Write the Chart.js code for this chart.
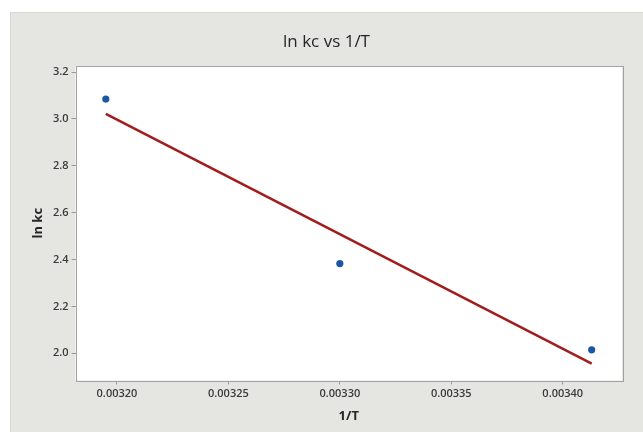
<!DOCTYPE html>
<html>
<head>
<meta charset="utf-8">
<title>ln kc vs 1/T</title>
<script src="https://cdn.jsdelivr.net/npm/chart.js@4/dist/chart.umd.min.js"></script>
<style>
  html, body { margin: 0; padding: 0; background: #ffffff; }
  #wrap { width: 643px; height: 432px; }
</style>
</head>
<body>
<div id="wrap"><canvas id="chart" width="643" height="432"></canvas></div>
<script>
// Measured points: reciprocal temperature (1/K) and ln of the equilibrium constant
const invT = [0.003195, 0.003300, 0.003413];
const lnKc = [3.085, 2.383, 2.015];

// Fitted regression line, drawn between the first and last temperatures
const fitX = [0.003195, 0.003413];
const fitY = [3.022, 1.956];

// Axis ticks
const xTicks = [0.00320, 0.00325, 0.00330, 0.00335, 0.00340];
const yTicks = [2.0, 2.2, 2.4, 2.6, 2.8, 3.0, 3.2];

const xRange = [0.0031814, 0.0034266];
const yRange = [1.884, 3.226];

const PANEL = '#e5e5e2';
const FRAME = '#a3a3a3';
const TEXT = '#262626';
const TICK_TEXT = '#3a3a3a';
const FONT = "'Open Sans', 'Noto Sans', sans-serif";

const pointData = invT.map((x, i) => ({ x: x, y: lnKc[i] }));
const fitData = fitX.map((x, i) => ({ x: x, y: fitY[i] }));

// Paints the gray graph panel, the white data region and its frame
const panelPlugin = {
  id: 'panel',
  beforeDraw(chart) {
    const { ctx, chartArea: a } = chart;
    ctx.save();
    ctx.fillStyle = '#ffffff';
    ctx.fillRect(0, 0, chart.width, chart.height);
    ctx.fillStyle = PANEL;
    ctx.fillRect(10, 12, chart.width - 10, chart.height - 12);
    ctx.strokeStyle = '#d6d6d3';
    ctx.lineWidth = 1;
    ctx.beginPath();
    ctx.moveTo(10.5, chart.height);
    ctx.lineTo(10.5, 12.5);
    ctx.lineTo(chart.width, 12.5);
    ctx.stroke();
    ctx.fillStyle = '#ffffff';
    ctx.fillRect(a.left, a.top, a.right - a.left, a.bottom - a.top);
    ctx.restore();
  },
  afterDatasetsDraw(chart) {
    const { ctx, chartArea: a } = chart;
    ctx.save();
    ctx.strokeStyle = FRAME;
    ctx.lineWidth = 1;
    ctx.strokeRect(Math.round(a.left) + 0.5, Math.round(a.top) + 0.5,
                   Math.round(a.right - a.left), Math.round(a.bottom - a.top));
    ctx.restore();
  }
};

new Chart(document.getElementById('chart'), {
  type: 'scatter',
  data: {
    datasets: [
      {
        label: 'Fit',
        data: fitData,
        showLine: true,
        borderColor: '#a11d1d',
        borderWidth: 2.5,
        pointRadius: 0,
        fill: false,
        order: 2
      },
      {
        label: 'ln kc',
        data: pointData,
        pointRadius: 3.6,
        pointBackgroundColor: '#1d57a3',
        pointBorderColor: '#1d57a3',
        pointBorderWidth: 0,
        order: 1
      }
    ]
  },
  options: {
    responsive: false,
    animation: false,
    devicePixelRatio: 1,
    layout: { padding: { left: 10, right: 0, top: 0, bottom: 0 } },
    plugins: {
      legend: { display: false },
      tooltip: { enabled: false },
      title: {
        display: true,
        text: 'ln kc vs 1/T',
        color: TEXT,
        font: { family: FONT, size: 17, weight: 'normal' },
        padding: { top: 32, bottom: 13.6 }
      }
    },
    scales: {
      x: {
        type: 'linear',
        position: 'bottom',
        min: xRange[0],
        max: xRange[1],
        afterBuildTicks: s => { s.ticks = xTicks.map(v => ({ value: v })); },
        afterFit: s => { s.height = 51.5; },
        grid: { drawOnChartArea: false, drawTicks: true, tickLength: 4, color: '#9a9a9a' },
        border: { display: false },
        ticks: {
          color: TICK_TEXT,
          padding: 3,
          maxRotation: 0,
          font: { family: FONT, size: 11, weight: '600' },
          callback: v => Number(v).toFixed(5)
        },
        title: {
          display: true,
          text: '1/T',
          color: TEXT,
          font: { family: FONT, size: 13, weight: 'bold' },
          padding: { top: 0, bottom: 8 }
        }
      },
      y: {
        type: 'linear',
        position: 'left',
        min: yRange[0],
        max: yRange[1],
        afterBuildTicks: s => { s.ticks = yTicks.map(v => ({ value: v })); },
        afterFit: s => { s.width = 65.5; },
        grid: { drawOnChartArea: false, drawTicks: true, tickLength: 4, color: '#9a9a9a' },
        border: { display: false },
        ticks: {
          color: TICK_TEXT,
          padding: 3,
          font: { family: FONT, size: 11, weight: '600' },
          callback: v => Number(v).toFixed(1)
        },
        title: {
          display: true,
          text: 'ln kc',
          color: TEXT,
          font: { family: FONT, size: 13, weight: 'bold' },
          padding: { top: 20, bottom: 0 }
        }
      },
      yRight: {
        type: 'linear',
        position: 'right',
        display: true,
        afterFit: s => { s.width = 21; },
        grid: { display: false },
        border: { display: false },
        ticks: { display: false }
      }
    }
  },
  plugins: [panelPlugin]
});
</script>
</body>
</html>
